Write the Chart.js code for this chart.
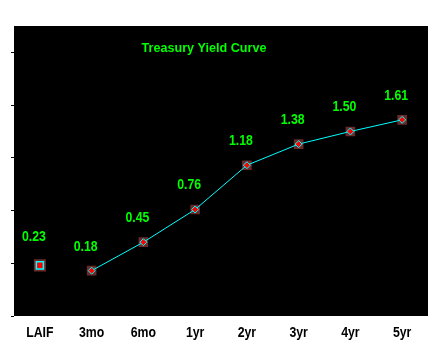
<!DOCTYPE html>
<html>
<head>
<meta charset="utf-8">
<script src="https://cdn.jsdelivr.net/npm/chart.js@4/dist/chart.umd.min.js"></script>
<style>
  html, body { margin: 0; padding: 0; background: #fff; }
  #wrap { width: 438px; height: 358px; }
</style>
</head>
<body>
<div id="wrap"><canvas id="yieldCurve" width="438" height="358"></canvas></div>
<script>
var categories = ["LAIF", "3mo", "6mo", "1yr", "2yr", "3yr", "4yr", "5yr"];
var laifYield = [0.23];
var treasuryYields = [0.18, 0.45, 0.76, 1.18, 1.38, 1.50, 1.61];
var yTicks = [-0.25, 0.25, 0.75, 1.25, 1.75, 2.25];

var FONT = '"Liberation Sans", Arial, sans-serif';

// LAIF stands alone, treasuries make the curve
var laifData = [laifYield[0]].concat(treasuryYields.map(function () { return null; }));
var curveData = [null].concat(treasuryYields);
var allData = laifYield.concat(treasuryYields);

// narrow-looking text: squeeze it sideways
function narrowText(c, txt, x, y, squeeze) {
    c.save();
    c.translate(x, y);
    c.scale(squeeze, 1);
    c.fillText(txt, 0, 0);
    c.restore();
}

var chartBack = {
    id: 'chartBack',
    beforeDraw: function (chart) {
        var a = chart.chartArea, c = chart.ctx;
        c.save();
        c.fillStyle = '#000';
        c.fillRect(a.left, a.top, a.right - a.left, a.bottom - a.top);
        c.restore();
    }
};

var textLayer = {
    id: 'textLayer',
    afterDatasetsDraw: function (chart) {
        var c = chart.ctx, a = chart.chartArea;
        var xs = chart.scales.x;
        c.save();
        c.textAlign = 'center';
        c.textBaseline = 'alphabetic';

        // title
        c.fillStyle = '#00ff00';
        c.font = 'bold 13px ' + FONT;
        narrowText(c, 'Treasury Yield Curve', 204, 52, 0.97);

        // values over the points
        c.font = 'bold 15px ' + FONT;
        var meta = chart.getDatasetMeta(0);
        meta.data.forEach(function (pt, i) {
            var up = i === 0 ? 24 : 20;
            narrowText(c, allData[i].toFixed(2), pt.x - 6, pt.y - up, 0.82);
        });

        // category labels under the plot
        c.fillStyle = '#000';
        categories.forEach(function (lab, i) {
            narrowText(c, lab, xs.getPixelForValue(i), a.bottom + 21, 0.82);
        });
        c.restore();
    }
};

new Chart(document.getElementById('yieldCurve').getContext('2d'), {
    type: 'line',
    data: {
        labels: categories,
        datasets: [
            { // brown backing squares
                data: allData,
                showLine: false,
                pointStyle: 'rect',
                pointRadius: function (ctx) { return ctx.dataIndex === 0 ? 8.5 : 6.8; },
                pointBackgroundColor: '#6a2a2a',
                pointBorderWidth: 0,
                order: 3
            },
            {
                data: curveData,
                borderColor: '#00ffff',
                borderWidth: 1,
                pointStyle: 'rectRot',
                pointRadius: 3.5,
                pointBackgroundColor: '#ff0000',
                pointBorderColor: '#00ffff',
                pointBorderWidth: 1,
                order: 2
            },
            {
                data: laifData,
                showLine: false,
                pointStyle: 'rect',
                pointRadius: 5,
                pointBackgroundColor: '#ff0000',
                pointBorderColor: '#00ffff',
                pointBorderWidth: 1.5,
                order: 1
            }
        ]
    },
    options: {
        responsive: false,
        animation: false,
        layout: { padding: { left: 11, right: 10, top: 26, bottom: 0 } },
        plugins: { legend: { display: false }, tooltip: { enabled: false } },
        scales: {
            x: {
                offset: true,
                grid: { display: false, drawTicks: false },
                border: { display: false },
                ticks: { display: false },
                afterFit: function (axis) { axis.height = 42; }
            },
            y: {
                min: -0.25,
                max: 2.5,
                afterBuildTicks: function (axis) {
                    axis.ticks = yTicks.map(function (v) { return { value: v }; });
                },
                grid: { drawOnChartArea: false, drawTicks: true, tickLength: 3, color: '#000' },
                border: { display: false },
                ticks: { display: false }
            }
        }
    },
    plugins: [chartBack, textLayer]
});
</script>
</body>
</html>
